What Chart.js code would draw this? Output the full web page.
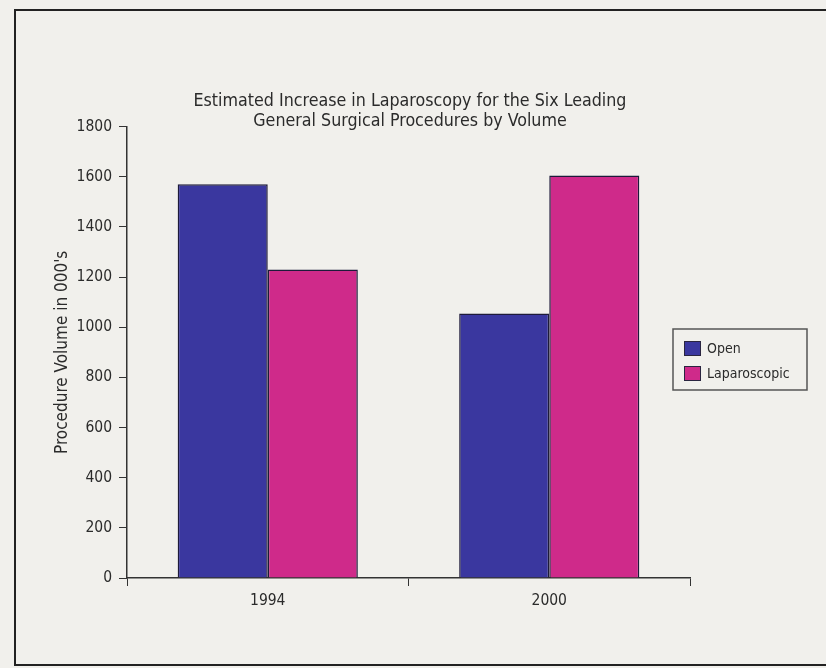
<!DOCTYPE html>
<html>
<head>
<meta charset="utf-8">
<script src="https://cdn.jsdelivr.net/npm/chart.js@4.4.1/dist/chart.umd.min.js"></script>
<style>
  html, body { margin: 0; padding: 0; background: #f1f0ec; }
  #wrap { width: 826px; height: 668px; position: relative; }
</style>
</head>
<body>
<div id="wrap"><canvas id="chart" width="826" height="668"></canvas></div>
<script>
// Procedure volumes (thousands) by year
const years = ['1994', '2000'];
const openVolume = [1570, 1055];
const laparoscopicVolume = [1230, 1605];
const seriesNames = ['Open', 'Laparoscopic'];
const titleLines = [
  'Estimated Increase in Laparoscopy for the Six Leading',
  'General Surgical Procedures by Volume'
];
const yAxisTitle = "Procedure Volume in 000's";

const FONT = "'Liberation Sans Narrow', 'DejaVu Sans Condensed', 'Arial Narrow', sans-serif";
const INK = '#2b2b2b';
const BLUE = '#3a379f';
const PINK = '#cf2a8a';

// Page background and the open frame (top, left, bottom rules)
const framePlugin = {
  id: 'frame',
  beforeDraw(chart) {
    const ctx = chart.ctx;
    ctx.save();
    ctx.fillStyle = '#f1f0ec';
    ctx.fillRect(0, 0, chart.width, chart.height);
    ctx.strokeStyle = '#222';
    ctx.lineWidth = 2;
    ctx.beginPath();
    ctx.moveTo(chart.width, 10);
    ctx.lineTo(15, 10);
    ctx.lineTo(15, 665);
    ctx.lineTo(chart.width, 665);
    ctx.stroke();
    ctx.restore();
  }
};

// Boxed legend to the right of the plot
const boxLegend = {
  id: 'boxLegend',
  afterDraw(chart) {
    const ctx = chart.ctx;
    const x0 = 673, y0 = 329, w = 134, h = 61;
    ctx.save();
    ctx.strokeStyle = '#555';
    ctx.lineWidth = 1.5;
    ctx.strokeRect(x0, y0, w, h);
    ctx.font = "14px " + FONT;
    ctx.textBaseline = 'middle';
    ctx.textAlign = 'left';
    chart.data.datasets.forEach((ds, i) => {
      const sy = 341 + i * 25;
      ctx.fillStyle = ds.backgroundColor;
      ctx.fillRect(684, sy, 17, 15);
      ctx.strokeStyle = '#2a2540';
      ctx.lineWidth = 1;
      ctx.strokeRect(684.5, sy + 0.5, 16, 14);
      ctx.fillStyle = INK;
      ctx.fillText(ds.label, 707, sy + 8);
    });
    ctx.restore();
  }
};

new Chart(document.getElementById('chart'), {
  type: 'bar',
  data: {
    labels: years,
    datasets: [
      { label: seriesNames[0], data: openVolume, backgroundColor: BLUE },
      { label: seriesNames[1], data: laparoscopicVolume, backgroundColor: PINK }
    ]
  },
  options: {
    responsive: false,
    animation: false,
    layout: { padding: { left: 0, right: 6, top: 0, bottom: 0 } },
    datasets: {
      bar: {
        categoryPercentage: 0.64,
        barPercentage: 1.0,
        borderWidth: 1.5,
        borderColor: '#1d1a3a',
        borderSkipped: 'bottom'
      }
    },
    plugins: {
      legend: { display: false },
      tooltip: { enabled: false },
      title: {
        display: true,
        text: titleLines,
        color: INK,
        font: { family: FONT, size: 17.7, weight: 'normal', lineHeight: 1.15 },
        padding: { top: 91, bottom: -5 }
      }
    },
    scales: {
      x: {
        grid: { drawOnChartArea: false, drawTicks: true, tickLength: 8, color: '#333', offset: true },
        border: { display: true, color: '#333', width: 1.5 },
        ticks: { color: INK, font: { family: FONT, size: 15.5 }, padding: 6 },
        afterFit(scale) { scale.height = 90; }
      },
      y: {
        min: 0,
        max: 1800,
        ticks: {
          stepSize: 200,
          color: INK,
          font: { family: FONT, size: 15.5 },
          padding: 7,
          callback: (v) => String(v)
        },
        grid: { drawOnChartArea: false, drawTicks: true, tickLength: 8, color: '#333' },
        border: { display: true, color: '#333', width: 1.5 },
        title: {
          display: true,
          text: yAxisTitle,
          color: INK,
          font: { family: FONT, size: 17, weight: 'normal' },
          padding: { top: 52, bottom: 0 }
        },
        afterFit(scale) { scale.width = 127; }
      },
      // right-hand spacer axis that reserves room for the legend
      spacer: {
        type: 'linear',
        position: 'right',
        display: true,
        ticks: { display: false },
        grid: { display: false },
        border: { display: false },
        afterFit(scale) { scale.width = 130; }
      }
    }
  },
  plugins: [framePlugin, boxLegend]
});
</script>
</body>
</html>
